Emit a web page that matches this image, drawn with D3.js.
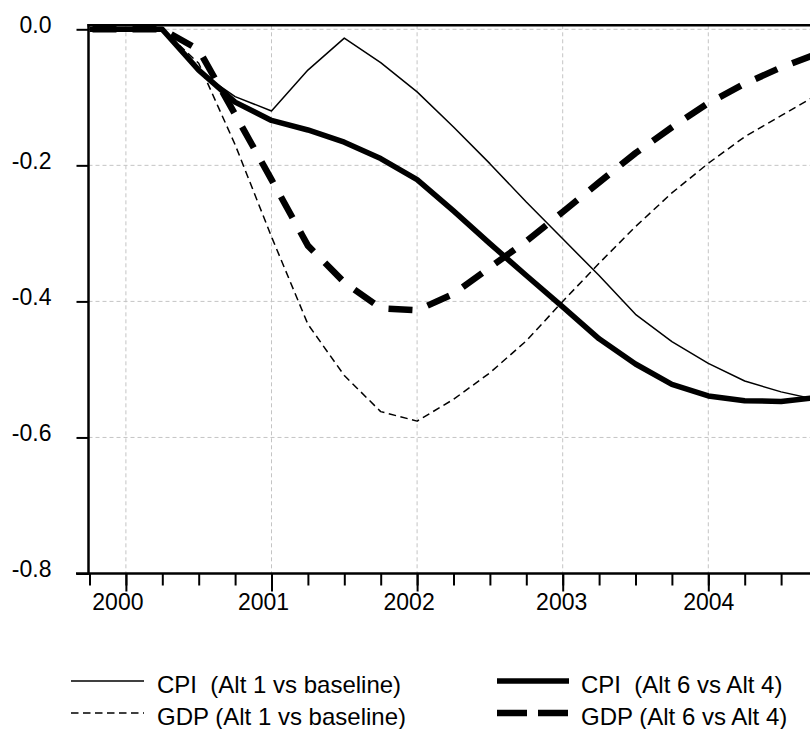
<!DOCTYPE html>
<html>
<head>
<meta charset="utf-8">
<script src="https://cdn.jsdelivr.net/npm/d3@7/dist/d3.min.js"></script>
<style>
  body { margin: 0; background: #fff; }
  svg { display: block; }
  text { font-family: "Liberation Sans", Arial, sans-serif; fill: #000; }
</style>
</head>
<body>
<svg id="chart" width="810" height="729"></svg>
<script>
// Quarterly periods (1999Q4 .. 2004Q4)
const quarters = ["1999Q4",
  "2000Q1","2000Q2","2000Q3","2000Q4",
  "2001Q1","2001Q2","2001Q3","2001Q4",
  "2002Q1","2002Q2","2002Q3","2002Q4",
  "2003Q1","2003Q2","2003Q3","2003Q4",
  "2004Q1","2004Q2","2004Q3","2004Q4"];
const yearTicks = ["2000Q1","2001Q1","2002Q1","2003Q1","2004Q1"];
const yearLabels = ["2000","2001","2002","2003","2004"];
const yTicks = [0, -0.2, -0.4, -0.6, -0.8];

// Deviations (percent)
const cpiAlt1 = [0, 0, 0, -0.062, -0.099, -0.120, -0.060, -0.013, -0.049, -0.092,
  -0.1435, -0.1975, -0.254, -0.308, -0.362, -0.419, -0.459, -0.491, -0.517, -0.533, -0.545];
const gdpAlt1 = [0, 0, 0, -0.050, -0.1695, -0.305, -0.4335, -0.509, -0.562, -0.576,
  -0.544, -0.505, -0.458, -0.400, -0.344, -0.290, -0.2405, -0.197, -0.158, -0.127, -0.096];
const cpiAlt6 = [0, 0, 0, -0.060, -0.107, -0.134, -0.148, -0.166, -0.190, -0.221,
  -0.267, -0.315, -0.362, -0.408, -0.455, -0.492, -0.522, -0.539, -0.546, -0.547, -0.541];
const gdpAlt6 = [0, 0, 0, -0.030, -0.125, -0.221, -0.318, -0.372, -0.410, -0.413,
  -0.389, -0.350, -0.3115, -0.2685, -0.225, -0.182, -0.144, -0.1085, -0.080, -0.056, -0.036];

const seriesNames = ["CPI  (Alt 1 vs baseline)", "GDP (Alt 1 vs baseline)",
  "CPI  (Alt 6 vs Alt 4)", "GDP (Alt 6 vs Alt 4)"];

const W = 810, H = 729;
const plotLeft = 88.5, plotTop = 25.3, plotBottom = 573.5;
const svg = d3.select("#chart");

const x = d3.scalePoint().domain(quarters).range([89.5, 89.5 + 36.4 * 20]);
const y = d3.scaleLinear().domain([-0.8, 0]).range([plotBottom, 29.3]);

// grid
const grid = svg.append("g").attr("stroke", "#c4c4c4").attr("stroke-width", 1)
  .attr("stroke-dasharray", "4,3").attr("fill", "none");
grid.selectAll("line.h").data(yTicks.filter(d => d > -0.8)).join("line")
  .attr("class", "h")
  .attr("x1", plotLeft).attr("x2", W).attr("y1", d => y(d)).attr("y2", d => y(d));
grid.selectAll("line.v").data(yearTicks).join("line")
  .attr("class", "v")
  .attr("x1", d => x(d)).attr("x2", d => x(d)).attr("y1", plotTop).attr("y2", plotBottom);

// series lines
const styles = [
  { data: cpiAlt1, w: 1.5, dash: null },
  { data: gdpAlt1, w: 1.5, dash: "7.5,4.5" },
  { data: cpiAlt6, w: 5.5, dash: null },
  { data: gdpAlt6, w: 6.5, dash: "24,16" }
];
const line = d3.line().x((d, i) => x(quarters[i])).y(d => y(d));
svg.append("g").selectAll("path").data(styles).join("path")
  .attr("d", s => line(s.data))
  .attr("fill", "none").attr("stroke", "#000")
  .attr("stroke-width", s => s.w)
  .attr("stroke-linejoin", "round")
  .attr("stroke-dasharray", s => s.dash)
  .attr("stroke-dashoffset", s => s.dash && s.w > 3 ? -3 : 0);

// frame: top line
svg.append("line").attr("x1", plotLeft - 1).attr("x2", W).attr("y1", plotTop).attr("y2", plotTop)
  .attr("stroke", "#000").attr("stroke-width", 2.5);

// y axis
const yAxis = svg.append("g").attr("transform", `translate(${plotLeft},0)`)
  .call(d3.axisLeft(y).tickValues(yTicks).tickSize(12).tickPadding(25)
    .tickFormat(d => d.toFixed(1)));
yAxis.select(".domain").attr("d", `M0,${plotTop - 1.2}V${plotBottom + 1.2}`).attr("stroke-width", 2.5);
yAxis.selectAll(".tick line").attr("stroke-width", 2);
yAxis.selectAll(".tick text").attr("font-size", 23).attr("dy", null).attr("y", 3)
  .style("font-family", '"Liberation Sans", Arial, sans-serif');

// x axis: quarter ticks and year ticks
const xAxisG = svg.append("g").attr("transform", `translate(0,${plotBottom})`);
xAxisG.append("g")
  .call(d3.axisBottom(x).tickValues(quarters).tickSize(12).tickFormat(""))
  .call(g => g.select(".domain").remove())
  .selectAll(".tick line").attr("stroke-width", 2);
const yearAxis = xAxisG.append("g")
  .call(d3.axisBottom(x).tickValues(yearTicks).tickSize(18)
    .tickFormat((d, i) => yearLabels[i]));
yearAxis.select(".domain").remove();
yearAxis.selectAll(".tick line").attr("stroke-width", 2);
const labelNudge = [-8.5, -8.5, -8.5, -1.5, 0];
yearAxis.selectAll(".tick text").attr("font-size", 23).attr("y", 36).attr("dy", null)
  .attr("x", (d, i) => labelNudge[i])
  .style("font-family", '"Liberation Sans", Arial, sans-serif');
xAxisG.append("line").attr("x1", plotLeft - 12.5).attr("x2", W).attr("y1", 0).attr("y2", 0)
  .attr("stroke", "#000").attr("stroke-width", 2.5);

// legend
const legendItems = [
  { name: seriesNames[0], s: styles[0], col: 0, row: 0 },
  { name: seriesNames[1], s: styles[1], col: 0, row: 1 },
  { name: seriesNames[2], s: styles[2], col: 1, row: 0 },
  { name: seriesNames[3], s: { w: 6.5, dash: "30,11" }, col: 1, row: 1 }
];
const colX = [71, 497], colLen = [73, 72], colText = [157, 581];
const rowY = [693, 725];
const lg = svg.append("g").selectAll("g").data(legendItems).join("g");
lg.append("line")
  .attr("x1", d => colX[d.col]).attr("x2", d => colX[d.col] + colLen[d.col])
  .attr("y1", d => rowY[d.row] - 12).attr("y2", d => rowY[d.row] - 12)
  .attr("stroke", "#000").attr("stroke-width", d => d.s.w)
  .attr("stroke-dasharray", d => d.s.dash);
lg.append("text")
  .attr("x", d => colText[d.col]).attr("y", d => rowY[d.row])
  .attr("font-size", 24).attr("xml:space", "preserve")
  .style("white-space", "pre")
  .text(d => d.name);
</script>
</body>
</html>
